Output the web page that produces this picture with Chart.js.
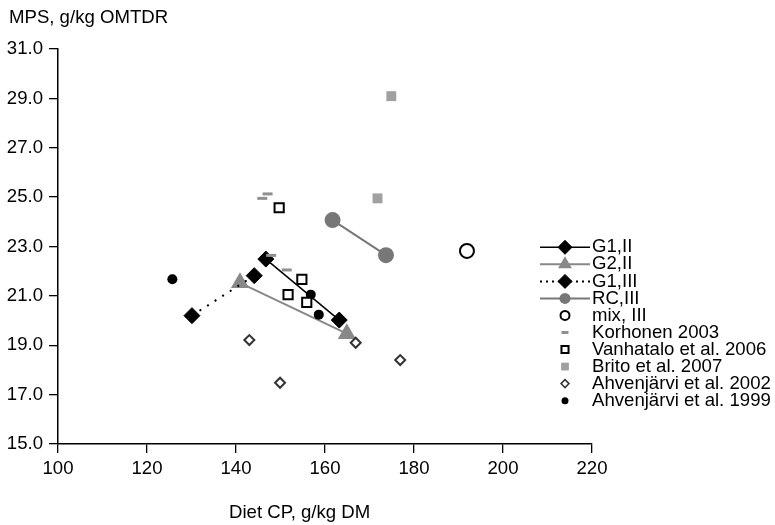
<!DOCTYPE html>
<html>
<head>
<meta charset="utf-8">
<script src="https://cdn.jsdelivr.net/npm/chart.js@4"></script>
<style>
  body { margin: 0; background: #fff; }
  #chart { display: block; }
</style>
</head>
<body>
<canvas id="chart" width="775" height="525"></canvas>
<script>
// Values (x = diet CP g/kg DM, y = MPS g/kg OMTDR)
const xTicks = [100, 120, 140, 160, 180, 200, 220];
const yTicks = [15, 17, 19, 21, 23, 25, 27, 29, 31];

const g1IIx = [146.7, 163.2];
const g1IIy = [22.49, 20.02];
const g2IIx = [140.9, 164.9];
const g2IIy = [21.53, 19.47];
const g1IIIx = [130.1, 144.1];
const g1IIIy = [20.20, 21.82];
const rcIIIx = [161.7, 173.7];
const rcIIIy = [24.07, 22.65];
const mixIIIx = [191.9];
const mixIIIy = [22.82];
const korhonenX = [147.1, 145.9, 147.9, 151.4];
const korhonenY = [25.13, 24.95, 22.64, 22.05];
const vanhataloX = [149.7, 154.8, 151.7, 155.9];
const vanhataloY = [24.57, 21.67, 21.05, 20.74];
const britoX = [174.9, 171.8];
const britoY = [29.09, 24.95];
const ahv2002X = [143.0, 149.9, 166.9, 176.9];
const ahv2002Y = [19.21, 17.48, 19.10, 18.40];
const ahv1999X = [125.7, 156.8, 158.6];
const ahv1999Y = [21.67, 21.05, 20.24];

const FONT = "'Liberation Sans', Arial, sans-serif";
const FONT_SIZE = 18.6;

function pts(xs, ys) {
    return xs.map((x, i) => ({ x: x, y: ys[i] }));
}

const datasets = [
    {
        label: 'G1,II', data: pts(g1IIx, g1IIy), showLine: true, order: 5,
        borderColor: '#000', borderWidth: 1.5,
        pointStyle: 'rectRot', pointRadius: 8, pointBackgroundColor: '#000',
        pointBorderColor: '#000', pointBorderWidth: 1
    },
    {
        label: 'G2,II', data: pts(g2IIx, g2IIy), showLine: true, order: 6,
        borderColor: '#888', borderWidth: 2,
        pointStyle: 'triangle', pointRadius: 10.5, pointBackgroundColor: '#888',
        pointBorderColor: '#888', pointBorderWidth: 0
    },
    {
        label: 'G1,III', data: pts(g1IIIx, g1IIIy), showLine: true, order: 4,
        borderColor: '#000', borderWidth: 2, borderDash: [2, 7],
        pointStyle: 'rectRot', pointRadius: 8, pointBackgroundColor: '#000',
        pointBorderColor: '#000', pointBorderWidth: 1
    },
    {
        label: 'RC,III', data: pts(rcIIIx, rcIIIy), showLine: true, order: 5,
        borderColor: '#777', borderWidth: 2,
        pointStyle: 'circle', pointRadius: 8, pointBackgroundColor: '#777',
        pointBorderColor: '#777', pointBorderWidth: 0
    },
    {
        label: 'mix, III', data: pts(mixIIIx, mixIIIy), showLine: false, order: 1,
        pointStyle: 'circle', pointRadius: 7, pointBackgroundColor: '#fff',
        pointBorderColor: '#000', pointBorderWidth: 2
    },
    {
        label: 'Korhonen 2003', data: pts(korhonenX, korhonenY), showLine: false, order: 0,
        pointStyle: 'line', pointRadius: 5, pointBackgroundColor: '#909090',
        pointBorderColor: '#909090', pointBorderWidth: 3
    },
    {
        label: 'Vanhatalo et al. 2006', data: pts(vanhataloX, vanhataloY), showLine: false, order: 1,
        pointStyle: 'rect', pointRadius: 6.5, pointBackgroundColor: '#fff',
        pointBorderColor: '#000', pointBorderWidth: 2
    },
    {
        label: 'Brito et al. 2007', data: pts(britoX, britoY), showLine: false, order: 1,
        pointStyle: 'rect', pointRadius: 7, pointBackgroundColor: '#a0a0a0',
        pointBorderColor: '#a0a0a0', pointBorderWidth: 0
    },
    {
        label: 'Ahvenjärvi et al. 2002', data: pts(ahv2002X, ahv2002Y), showLine: false, order: 1,
        pointStyle: 'rectRot', pointRadius: 5, pointBackgroundColor: '#fff',
        pointBorderColor: '#333', pointBorderWidth: 2
    },
    {
        label: 'Ahvenjärvi et al. 1999', data: pts(ahv1999X, ahv1999Y), showLine: false, order: 1,
        pointStyle: 'circle', pointRadius: 5, pointBackgroundColor: '#000',
        pointBorderColor: '#000', pointBorderWidth: 0
    }
];

// legend samples: line dash, marker style and size as in the figure
const legendMarks = [
    { line: true, width: 1.5, dash: [], style: 'rectRot', r: 7, fill: '#000', stroke: '#000', bw: 1 },
    { line: true, width: 2, dash: [], style: 'triangle', r: 8, fill: '#888', stroke: '#888', bw: 0 },
    { line: true, width: 2, dash: [2, 4], style: 'rectRot', r: 7, fill: '#000', stroke: '#000', bw: 1 },
    { line: true, width: 2, dash: [], style: 'circle', r: 5.5, fill: '#777', stroke: '#777', bw: 0 },
    { line: false, style: 'circle', r: 4.5, fill: '#fff', stroke: '#000', bw: 2 },
    { line: false, style: 'line', r: 3.5, fill: '#909090', stroke: '#909090', bw: 3 },
    { line: false, style: 'rect', r: 5, fill: '#fff', stroke: '#000', bw: 2 },
    { line: false, style: 'rect', r: 5.5, fill: '#a0a0a0', stroke: '#a0a0a0', bw: 0 },
    { line: false, style: 'rectRot', r: 4, fill: '#fff', stroke: '#333', bw: 1.5 },
    { line: false, style: 'circle', r: 3.5, fill: '#000', stroke: '#000', bw: 0 }
];

const extrasPlugin = {
    id: 'extras',
    afterDraw(chart) {
        const ctx = chart.ctx;
        ctx.save();
        ctx.font = FONT_SIZE + 'px ' + FONT;
        ctx.fillStyle = '#000';
        ctx.textBaseline = 'middle';
        ctx.textAlign = 'left';
        ctx.fillText('MPS, g/kg OMTDR', 9, 18);
        ctx.fillText('Diet CP, g/kg DM', 229, 513);

        const top = 247.3;
        const step = 17.04;
        datasets.forEach((ds, i) => {
            const m = legendMarks[i];
            const y = top + i * step;
            if (m.line) {
                ctx.save();
                ctx.strokeStyle = m.stroke;
                ctx.lineWidth = m.width;
                ctx.setLineDash(m.dash);
                ctx.beginPath();
                ctx.moveTo(540, y);
                ctx.lineTo(590, y);
                ctx.stroke();
                ctx.restore();
            }
            ctx.save();
            ctx.fillStyle = m.fill;
            ctx.strokeStyle = m.stroke;
            ctx.lineWidth = m.bw || 1;
            Chart.helpers.drawPoint(ctx, {
                pointStyle: m.style, radius: m.r, rotation: 0, borderWidth: m.bw
            }, 565, y);
            ctx.restore();
            ctx.fillStyle = '#000';
            ctx.fillText(ds.label, 592, y);
        });
        ctx.restore();
    }
};

const axisStyle = {
    border: { color: '#000', width: 1.5 },
    grid: { drawOnChartArea: false, drawTicks: true, tickLength: 9, color: '#000', lineWidth: 1.3 }
};

new Chart(document.getElementById('chart').getContext('2d'), {
    type: 'scatter',
    data: { datasets: datasets },
    options: {
        responsive: false,
        animation: false,
        layout: { padding: { top: 49, right: 183, left: 0, bottom: 0 } },
        plugins: {
            legend: { display: false },
            tooltip: { enabled: false }
        },
        scales: {
            x: Object.assign({}, axisStyle, {
                type: 'linear',
                min: xTicks[0],
                max: xTicks[xTicks.length - 1],
                afterBuildTicks: s => { s.ticks = xTicks.map(v => ({ value: v })); },
                ticks: { color: '#000', font: { family: FONT, size: FONT_SIZE }, padding: 5, maxRotation: 0 },
                afterFit: s => { s.height = 81; }
            }),
            y: Object.assign({}, axisStyle, {
                type: 'linear',
                min: yTicks[0],
                max: yTicks[yTicks.length - 1],
                afterBuildTicks: s => { s.ticks = yTicks.map(v => ({ value: v })); },
                ticks: {
                    color: '#000', font: { family: FONT, size: FONT_SIZE }, padding: 6,
                    callback: v => v.toFixed(1)
                },
                afterFit: s => { s.width = 58; }
            })
        }
    },
    plugins: [extrasPlugin]
});
</script>
</body>
</html>
